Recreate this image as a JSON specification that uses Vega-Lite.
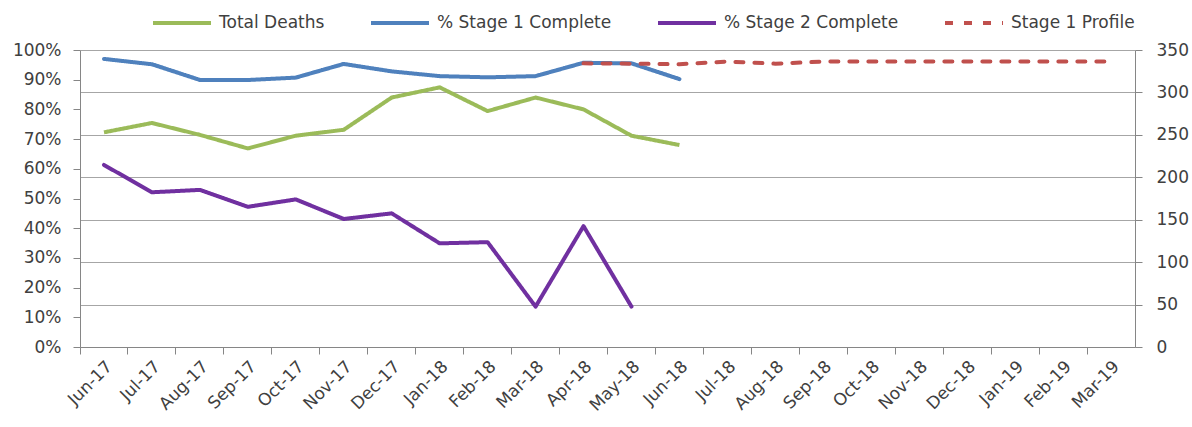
{
  "$schema": "https://vega.github.io/schema/vega-lite/v6.json",
  "width": 1055,
  "height": 297,
  "autosize": "none",
  "padding": {"left": 80, "top": 50, "right": 57, "bottom": 80},
  "background": "white",
  "config": {
    "font": "DejaVu Sans",
    "view": {"stroke": null},
    "axis": {
      "labelFont": "DejaVu Sans",
      "labelFontSize": 17,
      "labelColor": "#404040",
      "domainColor": "#868686",
      "tickColor": "#868686",
      "tickSize": 7,
      "title": null,
      "labelPadding": 10
    },
    "legend": {
      "orient": "none",
      "legendX": 71,
      "legendY": -58,
      "direction": "horizontal",
      "symbolType": "stroke",
      "symbolSize": 3364,
      "symbolStrokeWidth": 4,
      "labelFont": "DejaVu Sans",
      "labelFontSize": 17,
      "labelColor": "#404040",
      "labelLimit": 0,
      "columnPadding": 38,
      "labelOffset": 6,
      "title": null
    }
  },
  "data": {
    "values": [
      {"month": "Jun-17", "series": "% Stage 1 Complete", "value": 0.970},
      {"month": "Jul-17", "series": "% Stage 1 Complete", "value": 0.952},
      {"month": "Aug-17", "series": "% Stage 1 Complete", "value": 0.899},
      {"month": "Sep-17", "series": "% Stage 1 Complete", "value": 0.899},
      {"month": "Oct-17", "series": "% Stage 1 Complete", "value": 0.907},
      {"month": "Nov-17", "series": "% Stage 1 Complete", "value": 0.953},
      {"month": "Dec-17", "series": "% Stage 1 Complete", "value": 0.928},
      {"month": "Jan-18", "series": "% Stage 1 Complete", "value": 0.912},
      {"month": "Feb-18", "series": "% Stage 1 Complete", "value": 0.908},
      {"month": "Mar-18", "series": "% Stage 1 Complete", "value": 0.912},
      {"month": "Apr-18", "series": "% Stage 1 Complete", "value": 0.957},
      {"month": "May-18", "series": "% Stage 1 Complete", "value": 0.955},
      {"month": "Jun-18", "series": "% Stage 1 Complete", "value": 0.902},
      {"month": "Jun-17", "series": "% Stage 2 Complete", "value": 0.613},
      {"month": "Jul-17", "series": "% Stage 2 Complete", "value": 0.521},
      {"month": "Aug-17", "series": "% Stage 2 Complete", "value": 0.529},
      {"month": "Sep-17", "series": "% Stage 2 Complete", "value": 0.472},
      {"month": "Oct-17", "series": "% Stage 2 Complete", "value": 0.497},
      {"month": "Nov-17", "series": "% Stage 2 Complete", "value": 0.431},
      {"month": "Dec-17", "series": "% Stage 2 Complete", "value": 0.450},
      {"month": "Jan-18", "series": "% Stage 2 Complete", "value": 0.349},
      {"month": "Feb-18", "series": "% Stage 2 Complete", "value": 0.353},
      {"month": "Mar-18", "series": "% Stage 2 Complete", "value": 0.136},
      {"month": "Apr-18", "series": "% Stage 2 Complete", "value": 0.407},
      {"month": "May-18", "series": "% Stage 2 Complete", "value": 0.136},
      {"month": "Apr-18", "series": "Stage 1 Profile", "value": 0.955},
      {"month": "May-18", "series": "Stage 1 Profile", "value": 0.954},
      {"month": "Jun-18", "series": "Stage 1 Profile", "value": 0.952},
      {"month": "Jul-18", "series": "Stage 1 Profile", "value": 0.961},
      {"month": "Aug-18", "series": "Stage 1 Profile", "value": 0.954},
      {"month": "Sep-18", "series": "Stage 1 Profile", "value": 0.961},
      {"month": "Oct-18", "series": "Stage 1 Profile", "value": 0.961},
      {"month": "Nov-18", "series": "Stage 1 Profile", "value": 0.961},
      {"month": "Dec-18", "series": "Stage 1 Profile", "value": 0.961},
      {"month": "Jan-19", "series": "Stage 1 Profile", "value": 0.961},
      {"month": "Feb-19", "series": "Stage 1 Profile", "value": 0.961},
      {"month": "Mar-19", "series": "Stage 1 Profile", "value": 0.961},
      {"month": "Jun-17", "series": "Total Deaths", "value": 253},
      {"month": "Jul-17", "series": "Total Deaths", "value": 264},
      {"month": "Aug-17", "series": "Total Deaths", "value": 250},
      {"month": "Sep-17", "series": "Total Deaths", "value": 234},
      {"month": "Oct-17", "series": "Total Deaths", "value": 249},
      {"month": "Nov-17", "series": "Total Deaths", "value": 256},
      {"month": "Dec-17", "series": "Total Deaths", "value": 294},
      {"month": "Jan-18", "series": "Total Deaths", "value": 306},
      {"month": "Feb-18", "series": "Total Deaths", "value": 278},
      {"month": "Mar-18", "series": "Total Deaths", "value": 294},
      {"month": "Apr-18", "series": "Total Deaths", "value": 280},
      {"month": "May-18", "series": "Total Deaths", "value": 249},
      {"month": "Jun-18", "series": "Total Deaths", "value": 238}
    ]
  },
  "encoding": {
    "x": {
      "field": "month",
      "type": "ordinal",
      "sort": ["Jun-17","Jul-17","Aug-17","Sep-17","Oct-17","Nov-17","Dec-17","Jan-18","Feb-18","Mar-18","Apr-18","May-18","Jun-18","Jul-18","Aug-18","Sep-18","Oct-18","Nov-18","Dec-18","Jan-19","Feb-19","Mar-19"],
      "scale": {"type": "band", "paddingInner": 0, "paddingOuter": 0, "domain": ["Jun-17","Jul-17","Aug-17","Sep-17","Oct-17","Nov-17","Dec-17","Jan-18","Feb-18","Mar-18","Apr-18","May-18","Jun-18","Jul-18","Aug-18","Sep-18","Oct-18","Nov-18","Dec-18","Jan-19","Feb-19","Mar-19"]},
      "bandPosition": 0.5,
      "axis": {"bandPosition": 0, "labelAngle": -45, "grid": false, "labelPadding": 4}
    },
    "color": {
      "field": "series",
      "type": "nominal",
      "scale": {
        "domain": ["Total Deaths", "% Stage 1 Complete", "% Stage 2 Complete", "Stage 1 Profile"],
        "range": ["#9BBB59", "#4F81BD", "#7030A0", "#C0504D"]
      }
    },
    "strokeDash": {
      "field": "series",
      "type": "nominal",
      "scale": {
        "domain": ["Total Deaths", "% Stage 1 Complete", "% Stage 2 Complete", "Stage 1 Profile"],
        "range": [[1, 0], [1, 0], [1, 0], [8, 11]]
      }
    }
  },
  "layer": [
    {
      "transform": [{"filter": "datum.series === 'Total Deaths'"}],
      "mark": {"type": "line", "strokeWidth": 4, "strokeJoin": "round"},
      "encoding": {
        "y": {
          "field": "value",
          "type": "quantitative",
          "scale": {"domain": [0, 350]},
          "axis": {"orient": "right", "values": [0, 50, 100, 150, 200, 250, 300, 350], "grid": true, "gridColor": "#a6a6a6", "gridWidth": 1, "labelPadding": 14}
        }
      }
    },
    {
      "transform": [{"filter": "datum.series !== 'Total Deaths'"}],
      "mark": {"type": "line", "strokeWidth": 4, "strokeJoin": "round", "strokeCap": "round"},
      "encoding": {
        "y": {
          "field": "value",
          "type": "quantitative",
          "scale": {"domain": [0, 1]},
          "axis": {"orient": "left", "format": ".0%", "values": [0, 0.1, 0.2, 0.3, 0.4, 0.5, 0.6, 0.7, 0.8, 0.9, 1], "grid": false, "labelPadding": 12}
        }
      }
    }
  ],
  "resolve": {"scale": {"y": "independent"}}
}
